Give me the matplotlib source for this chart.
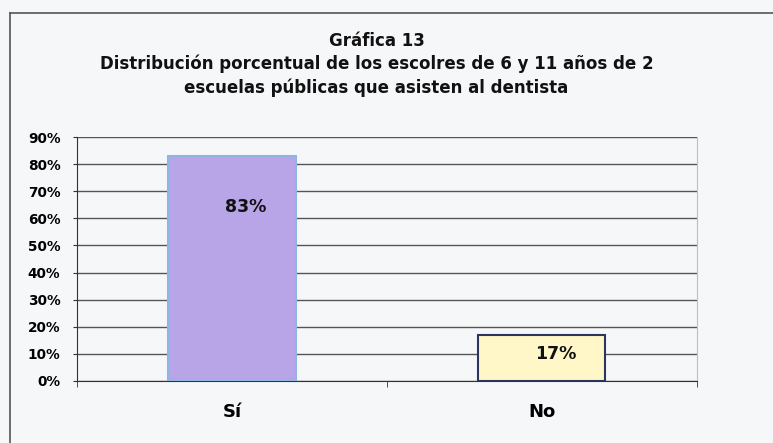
import matplotlib.pyplot as plt
from matplotlib.lines import Line2D

categories = ["Sí", "No"]
values = [83, 17]
label_drop = [19, 7]  # how far below the bar top each value label sits
yticks = [0, 10, 20, 30, 40, 50, 60, 70, 80, 90]
title_lines = [
    "Gráfica 13",
    "Distribución porcentual de los escolres de 6 y 11 años de 2",
    "escuelas públicas que asisten al dentista",
]

plt.rcParams["font.family"] = ["DejaVu Sans"]
plt.rcParams["font.weight"] = "bold"

bg = "#f6f7f9"
fig = plt.figure(figsize=(7.73, 4.43), dpi=100, facecolor=bg)
ax = fig.add_axes([0.0996, 0.14, 0.802, 0.5507])
ax.set_facecolor(bg)

# frame around the chart (only top and left edges visible)
fig.add_artist(Line2D([0.013, 1.0], [0.970, 0.970], color="#555555", lw=1.2,
                      transform=fig.transFigure))
fig.add_artist(Line2D([0.013, 0.013], [0.0, 0.970], color="#555555", lw=1.2,
                      transform=fig.transFigure))

x = [0, 1]
fills = ["#b7a5e7", "#fff7c8"]
edges = ["#8fb5e3", "#2a3560"]
bars = ax.bar(x, values, width=0.41, color=fills, edgecolor=edges, linewidth=1.5,
              zorder=3)

for xi, v, d in zip(x, values, label_drop):
    ax.text(xi + 0.045, v - d, f"{v}%", ha="center", va="center",
            fontsize=12.5, fontweight="bold", color="#111111", zorder=4)

ax.set_xlim(-0.5, 1.5)
ax.set_ylim(0, 90)
ax.set_yticks(yticks)
ax.set_yticklabels([f"{t}%" for t in yticks], fontsize=9.8, fontweight="bold")
ax.set_xticks(x)
ax.set_xticklabels(categories, fontsize=13, fontweight="bold")
ax.tick_params(axis="x", length=0, pad=16)
ax.tick_params(axis="y", length=3, pad=9, color="#333333")
ax.set_xticks([-0.5, 0.5, 1.5], minor=True)
ax.tick_params(axis="x", which="minor", length=4, direction="out", color="#333333")

ax.grid(axis="y", color="#555555", linewidth=1.0, zorder=1)
ax.spines["top"].set_visible(False)
ax.spines["right"].set_color("#b9c0cc")
ax.spines["left"].set_color("#333333")
ax.spines["bottom"].set_color("#333333")

ys = [0.908, 0.857, 0.803]
for y, line in zip(ys, title_lines):
    fig.text(0.487, y, line, ha="center", va="center", fontsize=12,
             fontweight="bold", color="#111111")

fig.savefig("out.png", dpi=100, facecolor=bg)
